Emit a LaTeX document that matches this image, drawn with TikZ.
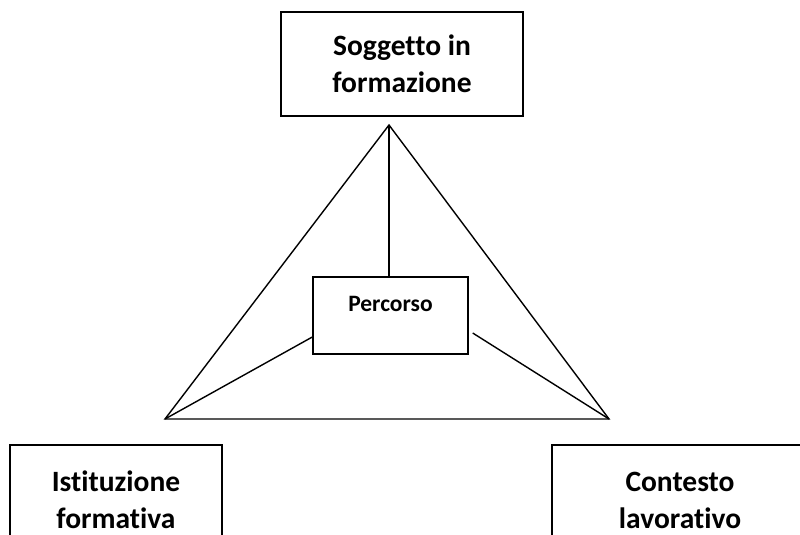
\documentclass[tikz,border=0pt]{standalone}
\usepackage{fontspec}
\setmainfont{Carlito}[Ligatures=NoCommon]
\usepackage{tikz}
\usetikzlibrary{positioning}

\begin{document}
\begin{tikzpicture}[
  x=1pt, y=-1pt,
  box/.style={draw, line width=1.8pt, align=center, inner sep=0pt,
              font=\fontsize{29.5}{37}\selectfont\bfseries},
  edge/.style={line width=1.4pt},
]
  \clip (0,0) rectangle (800,535);
  \fill[white] (0,0) rectangle (800,535);

  \node[box, minimum width=242pt, minimum height=104pt] (sogg) at (402,64)
    {Soggetto in\\formazione};
  \node[box, minimum width=212pt, minimum height=110pt] (ist) at (116,500)
    {Istituzione\\formativa};
  \node[box, minimum width=256pt, minimum height=110pt] (cont) at (680,500)
    {Contesto\\lavorativo};
  \node[draw, line width=1.4pt, minimum width=155pt, minimum height=77pt,
        label={[anchor=center, yshift=-28pt, font=\fontsize{23.5}{28}\selectfont\bfseries]north:Percorso}]
    (perc) at (390.5,315.5) {};

  \coordinate (apex) at (389,125);
  \coordinate (bl)   at (165,419);
  \coordinate (br)   at (609,419);

  \draw[edge] (bl) -- (apex) -- (br) -- cycle;
  \draw[edge] (apex) -- (apex |- perc.north);
  \draw[edge] (bl) -- ([yshift=-21.5pt]perc.west);
  \draw[edge] (br) -- ([xshift=4pt, yshift=-17.5pt]perc.east);
\end{tikzpicture}
\end{document}
